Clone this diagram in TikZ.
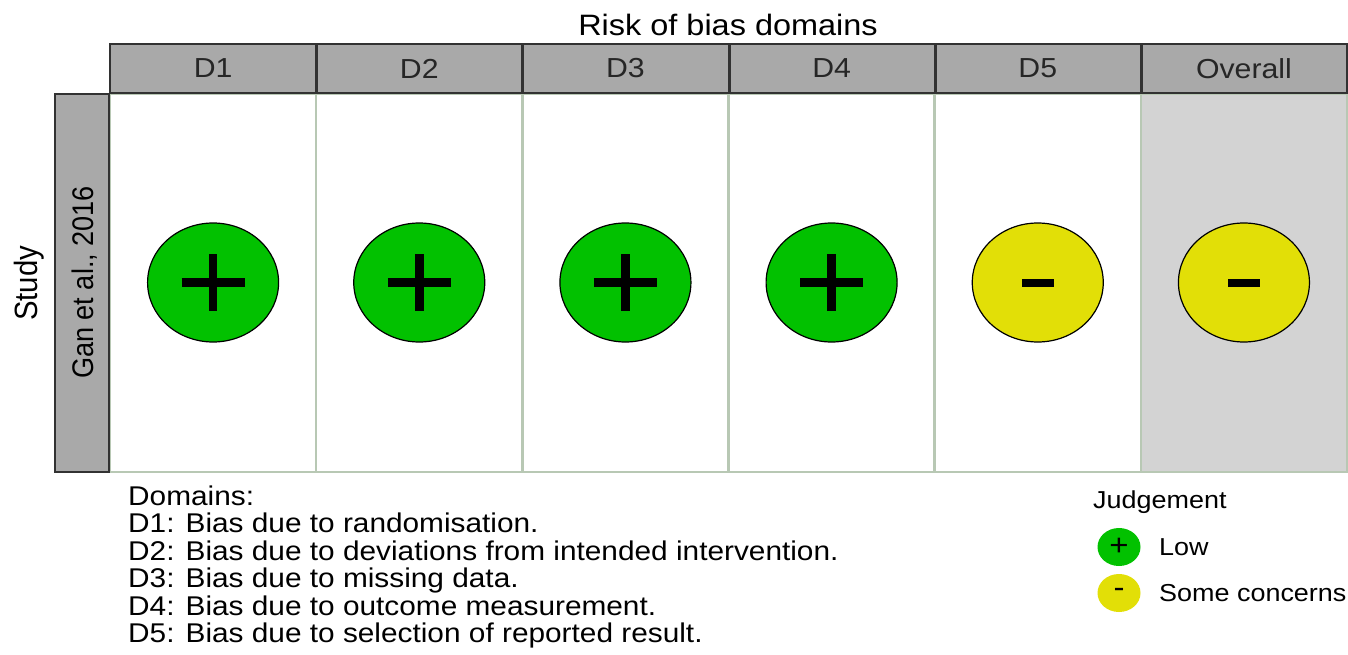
\documentclass[tikz,border=0pt]{standalone}
\usepackage{fontspec}
\setmainfont{Liberation Sans}[FakeStretch=1.1]
\newfontfamily\plainsans{Liberation Sans}
\usetikzlibrary{shapes.geometric}
\definecolor{hdr}{RGB}{169,169,169}
\definecolor{hdrline}{RGB}{50,50,50}
\definecolor{lowg}{RGB}{2,193,0}
\definecolor{someY}{RGB}{226,223,7}
\definecolor{ovbg}{RGB}{211,211,211}
\definecolor{sepc}{RGB}{184,200,180}
\begin{document}
\begin{tikzpicture}[x=1pt,y=-1pt,
  hdrcell/.style={draw=hdrline,line width=1.7pt,fill=hdr,minimum width=206.17pt,minimum height=49pt,inner sep=0pt,
    font=\fontsize{27.5}{28}\selectfont,text=black!85},
  hdrsep/.style={draw=hdrline,line width=2.4pt},
  panel/.style={draw=sepc,line width=2.4pt,fill=white,minimum width=206.17pt,minimum height=378pt,inner sep=0pt},
  judge/.style={ellipse,draw=black,line width=1.2pt,minimum width=131pt,minimum height=119pt,inner sep=0pt},
  legc/.style={ellipse,minimum width=43pt,minimum height=38pt,inner sep=0pt,font=\fontsize{30}{30}\selectfont},
  sym/.style={line width=8.5pt,black},
  titlef/.style={font=\fontsize{29.5}{30}\selectfont},
  domf/.style={anchor=base west,inner sep=0pt,font=\fontsize{27.1}{28}\selectfont},
  legf/.style={anchor=base west,inner sep=0pt,font=\fontsize{24.5}{25}\selectfont}
]
\useasboundingbox (0,0) rectangle (1348,655);
\fill[white] (0,0) rectangle (1348,655);

% panels
\foreach \i in {1,...,5}{
  \node[panel] (p\i) at ({110+(\i-0.5)*206.17},283) {};
}
\node[panel,fill=ovbg] (p6) at ({110+5.5*206.17},283) {};

% headers
\foreach \i/\lab in {1/D1,2/D2,3/D3,4/D4,5/D5,6/Overall}{
  \node[hdrcell] (h\i) at ({110+(\i-0.5)*206.17},68.5) {\lab};
}
\foreach \i in {1,...,5}{
  \draw[hdrsep] (h\i.north east) -- (h\i.south east);
}

% title
\node[titlef,anchor=base,inner sep=0pt] (title) at (728,36) {Risk of bias domains};

% study box
\node[draw=hdrline,line width=1.5pt,fill=hdr,minimum width=54pt,minimum height=378pt,inner sep=0pt] (sbox) at (82,283) {};
\node[rotate=90,anchor=base,inner sep=0pt] (gan) at (93,282.5) {\plainsans\fontsize{27.1}{28}\selectfont\scalebox{1}[1.1]{Gan et al., 2016}};
\node[rotate=90,anchor=base,inner sep=0pt] (study) at (37,283.5) {\plainsans\fontsize{29.3}{30}\selectfont\scalebox{1}[1.1]{Study}};

% judgements
\foreach \i/\c in {1/lowg,2/lowg,3/lowg,4/lowg,5/someY,6/someY}{
  \node[judge,fill=\c] (c\i) at ({110+(\i-0.5)*206.17},282.5) {};
}
\foreach \i in {1,2,3,4}{
  \draw[sym] (c\i.center) ++(-31.5,0) -- ++(63,0);
  \draw[sym] (c\i.center) ++(0,-28.5) -- ++(0,57);
}
\foreach \i in {5,6}{
  \fill[black] (c\i.center) ++(-16,-4) rectangle ++(32,8);
}

% domains legend
\node[domf] (dom0) at (128,505) {Domains:};
\node[domf] (dom1) at (128,532) {D1: Bias due to randomisation.};
\node[domf] (dom2) at (128,560) {D2: Bias due to deviations from intended intervention.};
\node[domf] (dom3) at (128,587) {D3: Bias due to missing data.};
\node[domf] (dom4) at (128,615) {D4: Bias due to outcome measurement.};
\node[domf] (dom5) at (128,642) {D5: Bias due to selection of reported result.};

% judgement legend
\node[legf] (jt) at (1093,508) {Judgement};
\node[legc,fill=lowg] (lg) at (1119,547) {+};
\node[legc,fill=someY] (ly) at (1119,593) {-};
\node[legf] (ll) at (1159,555) {Low};
\node[legf] (ls) at (1159,601) {Some concerns};
\end{tikzpicture}
\end{document}
